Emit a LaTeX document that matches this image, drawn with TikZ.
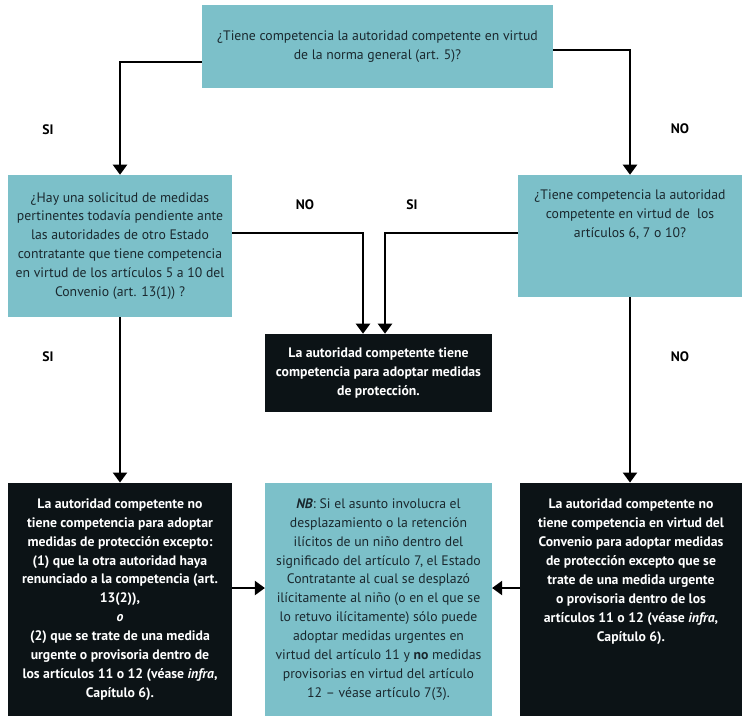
\documentclass[tikz,border=0pt]{standalone}
\usepackage{fontspec}
\setmainfont{PT Sans}
\usetikzlibrary{arrows.meta,calc}
\definecolor{tealbox}{RGB}{124,192,201}
\definecolor{darkbox}{RGB}{12,19,22}
\definecolor{tealtext}{RGB}{26,40,46}
\begin{document}
\begin{tikzpicture}[x=0.75pt,y=-0.75pt,
	every node/.style={font=\fontsize{10.3}{14.2}\selectfont},
	qbox/.style={fill=tealbox,text=tealtext,align=center,inner sep=0pt},
	abox/.style={fill=darkbox,text=white,align=center,inner sep=0pt,font=\fontsize{10.3}{14.2}\selectfont\bfseries},
	lbl/.style={font=\fontsize{10.3}{12}\selectfont\bfseries,text=black},
	arr/.style={line width=1.6pt,-{Triangle[width=10.5pt,length=7.5pt]}}]
	\useasboundingbox (0,0) rectangle (746,722);
	% questions
	\node[qbox,minimum width=263pt,minimum height=62pt] (top) at (377.5,46.5)
		{¿Tiene competencia la autoridad competente en virtud\\ de la norma general (art. 5)?};
	\node[qbox,minimum width=168pt,minimum height=106.5pt] (q1) at (120,246)
		{¿Hay una solicitud de medidas\\ pertinentes todavía pendiente ante\\ las autoridades de otro Estado\\ contratante que tiene competencia\\ en virtud de los artículos 5 a 10 del\\ Convenio (art. 13(1)) ?};
	\node[qbox,minimum width=168pt,minimum height=91.5pt] (q2) at (630,236)
		{¿Tiene competencia la autoridad\\ competente en virtud de~ los\\ artículos 6, 7 o 10?\\[19pt]\mbox{}};
	% answers
	\node[abox,minimum width=170pt,minimum height=58.5pt] (yes) at (378.5,373)
		{La autoridad competente tiene\\ competencia para adoptar medidas\\ de protección.};
	\node[abox,minimum width=168pt,minimum height=175pt] (noA) at (120,599.5)
		{La autoridad competente no\\ tiene competencia para adoptar\\ medidas de protección excepto:\\ (1) que la otra autoridad haya\\ renunciado a la competencia (art.\\ 13(2)),\\ \textit{o}\\ (2) que se trate de una medida\\ urgente o provisoria dentro de\\ los artículos 11 o 12 (véase \textit{infra},\\ Capítulo 6).};
	\node[qbox,minimum width=170pt,minimum height=175pt] (nb) at (378.5,599.5)
		{\textbf{\textit{NB}}: Si el asunto involucra el\\ desplazamiento o la retención\\ ilícitos de un niño dentro del\\ significado del artículo 7, el Estado\\ Contratante al cual se desplazó\\ ilícitamente al niño (o en el que se\\ lo retuvo ilícitamente) sólo puede\\ adoptar medidas urgentes en\\ virtud del artículo 11 y \textbf{no} medidas\\ provisorias en virtud del artículo\\ 12 – véase artículo 7(3).};
	\node[abox,minimum width=166pt,minimum height=175pt] (noB) at (631,599.5)
		{La autoridad competente no\\ tiene competencia en virtud del\\ Convenio para adoptar medidas\\ de protección excepto que se\\ trate de una medida urgente\\ o provisoria dentro de los\\ artículos 11 o 12 (véase \textit{infra},\\ Capítulo 6).\\[30pt]\mbox{}};
	% labels
	\node[lbl] (siA) at (48,130) {SI};
	\node[lbl] (noT) at (680,129) {NO};
	\node[lbl] (noM) at (305,205) {NO};
	\node[lbl] (siM) at (412,205) {SI};
	\node[lbl] (siB) at (48,357) {SI};
	\node[lbl] (noR) at (680,357) {NO};
	% connectors
	\draw[arr] ($(top.west)+(0,15.5)$) -| (q1);
	\draw[arr] ($(top.east)+(0,3.5)$) -| (q2);
	\draw[arr] ($(q1.east)+(0,-13)$) -| ($(yes.north)+(-15.5,0)$);
	\draw[arr] ($(q2.west)+(0,-3)$) -| ($(yes.north)+(6.5,0)$);
	\draw[arr] (q1) -- (noA);
	\draw[arr] (q2.south) -- (q2.south |- noB.north);
	\draw[arr] ($(noA.east)+(0,-11.5)$) -- ($(nb.west)+(0,-11.5)$);
	\draw[arr] ($(noB.west)+(0,-11.5)$) -- ($(nb.east)+(0,-11.5)$);
\end{tikzpicture}
\end{document}
